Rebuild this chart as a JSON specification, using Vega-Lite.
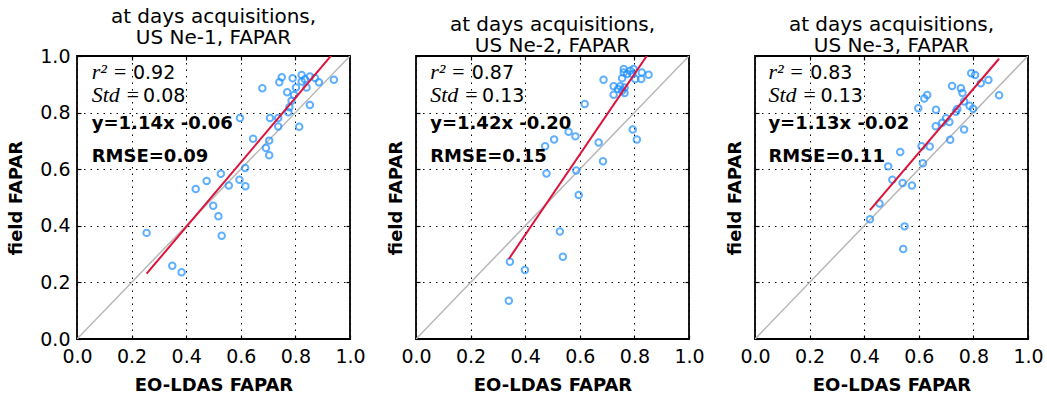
{
  "$schema": "https://vega.github.io/schema/vega-lite/v6.json",
  "padding": {"left": 6, "top": 6, "right": 0, "bottom": 0},
  "config": {
    "font": "DejaVu Sans",
    "view": {"stroke": "black", "strokeWidth": 1.8},
    "axis": {
      "domain": false, "ticks": true, "tickSize": -4, "tickColor": "black", "tickWidth": 1.2, "grid": true,
      "gridColor": "black", "gridDash": [1.5, 5], "gridWidth": 1, "gridOpacity": 1,
      "labelFont": "DejaVu Sans", "labelFontSize": 19, "labelColor": "black",
      "titleFont": "DejaVu Sans", "titleFontSize": 18, "titleFontWeight": "bold", "titleColor": "black"
    },
    "axisX": {"labelFlush": false, "labelPadding": 12, "titlePadding": 10},
    "title": {"font": "DejaVu Sans", "fontSize": 20, "fontWeight": "normal", "color": "black", "frame": "group", "anchor": "middle", "lineHeight": 21, "offset": -1},
    "concat": {"spacing": 19}
  },
  "datasets": {
    "points": [
      {"site": "US Ne-1", "eo_ldas": 0.750, "field_fapar": 0.925},
      {"site": "US Ne-1", "eo_ldas": 0.741, "field_fapar": 0.907},
      {"site": "US Ne-1", "eo_ldas": 0.790, "field_fapar": 0.921},
      {"site": "US Ne-1", "eo_ldas": 0.823, "field_fapar": 0.933},
      {"site": "US Ne-1", "eo_ldas": 0.853, "field_fapar": 0.928},
      {"site": "US Ne-1", "eo_ldas": 0.872, "field_fapar": 0.922},
      {"site": "US Ne-1", "eo_ldas": 0.886, "field_fapar": 0.907},
      {"site": "US Ne-1", "eo_ldas": 0.941, "field_fapar": 0.916},
      {"site": "US Ne-1", "eo_ldas": 0.679, "field_fapar": 0.886},
      {"site": "US Ne-1", "eo_ldas": 0.770, "field_fapar": 0.872},
      {"site": "US Ne-1", "eo_ldas": 0.802, "field_fapar": 0.889},
      {"site": "US Ne-1", "eo_ldas": 0.823, "field_fapar": 0.910},
      {"site": "US Ne-1", "eo_ldas": 0.835, "field_fapar": 0.918},
      {"site": "US Ne-1", "eo_ldas": 0.841, "field_fapar": 0.889},
      {"site": "US Ne-1", "eo_ldas": 0.795, "field_fapar": 0.862},
      {"site": "US Ne-1", "eo_ldas": 0.786, "field_fapar": 0.842},
      {"site": "US Ne-1", "eo_ldas": 0.778, "field_fapar": 0.819},
      {"site": "US Ne-1", "eo_ldas": 0.774, "field_fapar": 0.801},
      {"site": "US Ne-1", "eo_ldas": 0.853, "field_fapar": 0.827},
      {"site": "US Ne-1", "eo_ldas": 0.737, "field_fapar": 0.781},
      {"site": "US Ne-1", "eo_ldas": 0.707, "field_fapar": 0.781},
      {"site": "US Ne-1", "eo_ldas": 0.737, "field_fapar": 0.751},
      {"site": "US Ne-1", "eo_ldas": 0.814, "field_fapar": 0.750},
      {"site": "US Ne-1", "eo_ldas": 0.597, "field_fapar": 0.781},
      {"site": "US Ne-1", "eo_ldas": 0.645, "field_fapar": 0.708},
      {"site": "US Ne-1", "eo_ldas": 0.704, "field_fapar": 0.701},
      {"site": "US Ne-1", "eo_ldas": 0.692, "field_fapar": 0.675},
      {"site": "US Ne-1", "eo_ldas": 0.704, "field_fapar": 0.649},
      {"site": "US Ne-1", "eo_ldas": 0.616, "field_fapar": 0.604},
      {"site": "US Ne-1", "eo_ldas": 0.595, "field_fapar": 0.563},
      {"site": "US Ne-1", "eo_ldas": 0.617, "field_fapar": 0.540},
      {"site": "US Ne-1", "eo_ldas": 0.556, "field_fapar": 0.542},
      {"site": "US Ne-1", "eo_ldas": 0.527, "field_fapar": 0.584},
      {"site": "US Ne-1", "eo_ldas": 0.475, "field_fapar": 0.558},
      {"site": "US Ne-1", "eo_ldas": 0.435, "field_fapar": 0.530},
      {"site": "US Ne-1", "eo_ldas": 0.499, "field_fapar": 0.471},
      {"site": "US Ne-1", "eo_ldas": 0.518, "field_fapar": 0.434},
      {"site": "US Ne-1", "eo_ldas": 0.530, "field_fapar": 0.365},
      {"site": "US Ne-1", "eo_ldas": 0.255, "field_fapar": 0.375},
      {"site": "US Ne-1", "eo_ldas": 0.349, "field_fapar": 0.259},
      {"site": "US Ne-1", "eo_ldas": 0.383, "field_fapar": 0.236},

      {"site": "US Ne-2", "eo_ldas": 0.761, "field_fapar": 0.954},
      {"site": "US Ne-2", "eo_ldas": 0.761, "field_fapar": 0.942},
      {"site": "US Ne-2", "eo_ldas": 0.785, "field_fapar": 0.948},
      {"site": "US Ne-2", "eo_ldas": 0.797, "field_fapar": 0.954},
      {"site": "US Ne-2", "eo_ldas": 0.773, "field_fapar": 0.936},
      {"site": "US Ne-2", "eo_ldas": 0.793, "field_fapar": 0.936},
      {"site": "US Ne-2", "eo_ldas": 0.827, "field_fapar": 0.942},
      {"site": "US Ne-2", "eo_ldas": 0.852, "field_fapar": 0.934},
      {"site": "US Ne-2", "eo_ldas": 0.825, "field_fapar": 0.919},
      {"site": "US Ne-2", "eo_ldas": 0.803, "field_fapar": 0.919},
      {"site": "US Ne-2", "eo_ldas": 0.687, "field_fapar": 0.916},
      {"site": "US Ne-2", "eo_ldas": 0.755, "field_fapar": 0.921},
      {"site": "US Ne-2", "eo_ldas": 0.724, "field_fapar": 0.893},
      {"site": "US Ne-2", "eo_ldas": 0.748, "field_fapar": 0.893},
      {"site": "US Ne-2", "eo_ldas": 0.764, "field_fapar": 0.889},
      {"site": "US Ne-2", "eo_ldas": 0.740, "field_fapar": 0.883},
      {"site": "US Ne-2", "eo_ldas": 0.724, "field_fapar": 0.863},
      {"site": "US Ne-2", "eo_ldas": 0.764, "field_fapar": 0.869},
      {"site": "US Ne-2", "eo_ldas": 0.755, "field_fapar": 0.877},
      {"site": "US Ne-2", "eo_ldas": 0.618, "field_fapar": 0.830},
      {"site": "US Ne-2", "eo_ldas": 0.794, "field_fapar": 0.740},
      {"site": "US Ne-2", "eo_ldas": 0.809, "field_fapar": 0.705},
      {"site": "US Ne-2", "eo_ldas": 0.669, "field_fapar": 0.694},
      {"site": "US Ne-2", "eo_ldas": 0.559, "field_fapar": 0.732},
      {"site": "US Ne-2", "eo_ldas": 0.584, "field_fapar": 0.716},
      {"site": "US Ne-2", "eo_ldas": 0.506, "field_fapar": 0.705},
      {"site": "US Ne-2", "eo_ldas": 0.473, "field_fapar": 0.681},
      {"site": "US Ne-2", "eo_ldas": 0.685, "field_fapar": 0.628},
      {"site": "US Ne-2", "eo_ldas": 0.478, "field_fapar": 0.585},
      {"site": "US Ne-2", "eo_ldas": 0.587, "field_fapar": 0.595},
      {"site": "US Ne-2", "eo_ldas": 0.596, "field_fapar": 0.509},
      {"site": "US Ne-2", "eo_ldas": 0.527, "field_fapar": 0.380},
      {"site": "US Ne-2", "eo_ldas": 0.538, "field_fapar": 0.291},
      {"site": "US Ne-2", "eo_ldas": 0.344, "field_fapar": 0.273},
      {"site": "US Ne-2", "eo_ldas": 0.399, "field_fapar": 0.244},
      {"site": "US Ne-2", "eo_ldas": 0.340, "field_fapar": 0.135},

      {"site": "US Ne-3", "eo_ldas": 0.792, "field_fapar": 0.939},
      {"site": "US Ne-3", "eo_ldas": 0.806, "field_fapar": 0.933},
      {"site": "US Ne-3", "eo_ldas": 0.855, "field_fapar": 0.915},
      {"site": "US Ne-3", "eo_ldas": 0.827, "field_fapar": 0.904},
      {"site": "US Ne-3", "eo_ldas": 0.894, "field_fapar": 0.861},
      {"site": "US Ne-3", "eo_ldas": 0.722, "field_fapar": 0.894},
      {"site": "US Ne-3", "eo_ldas": 0.754, "field_fapar": 0.886},
      {"site": "US Ne-3", "eo_ldas": 0.760, "field_fapar": 0.869},
      {"site": "US Ne-3", "eo_ldas": 0.631, "field_fapar": 0.862},
      {"site": "US Ne-3", "eo_ldas": 0.620, "field_fapar": 0.850},
      {"site": "US Ne-3", "eo_ldas": 0.598, "field_fapar": 0.815},
      {"site": "US Ne-3", "eo_ldas": 0.663, "field_fapar": 0.810},
      {"site": "US Ne-3", "eo_ldas": 0.766, "field_fapar": 0.839},
      {"site": "US Ne-3", "eo_ldas": 0.786, "field_fapar": 0.824},
      {"site": "US Ne-3", "eo_ldas": 0.799, "field_fapar": 0.814},
      {"site": "US Ne-3", "eo_ldas": 0.741, "field_fapar": 0.813},
      {"site": "US Ne-3", "eo_ldas": 0.736, "field_fapar": 0.803},
      {"site": "US Ne-3", "eo_ldas": 0.712, "field_fapar": 0.767},
      {"site": "US Ne-3", "eo_ldas": 0.700, "field_fapar": 0.780},
      {"site": "US Ne-3", "eo_ldas": 0.686, "field_fapar": 0.764},
      {"site": "US Ne-3", "eo_ldas": 0.662, "field_fapar": 0.752},
      {"site": "US Ne-3", "eo_ldas": 0.766, "field_fapar": 0.740},
      {"site": "US Ne-3", "eo_ldas": 0.715, "field_fapar": 0.704},
      {"site": "US Ne-3", "eo_ldas": 0.610, "field_fapar": 0.681},
      {"site": "US Ne-3", "eo_ldas": 0.640, "field_fapar": 0.680},
      {"site": "US Ne-3", "eo_ldas": 0.532, "field_fapar": 0.661},
      {"site": "US Ne-3", "eo_ldas": 0.488, "field_fapar": 0.610},
      {"site": "US Ne-3", "eo_ldas": 0.615, "field_fapar": 0.621},
      {"site": "US Ne-3", "eo_ldas": 0.503, "field_fapar": 0.563},
      {"site": "US Ne-3", "eo_ldas": 0.541, "field_fapar": 0.551},
      {"site": "US Ne-3", "eo_ldas": 0.575, "field_fapar": 0.542},
      {"site": "US Ne-3", "eo_ldas": 0.456, "field_fapar": 0.479},
      {"site": "US Ne-3", "eo_ldas": 0.421, "field_fapar": 0.423},
      {"site": "US Ne-3", "eo_ldas": 0.548, "field_fapar": 0.398},
      {"site": "US Ne-3", "eo_ldas": 0.543, "field_fapar": 0.318}
    ],
    "fits": [
      {"site": "US Ne-1", "eo_ldas": 0.255, "field_fapar": 0.2307},
      {"site": "US Ne-1", "eo_ldas": 0.941, "field_fapar": 1.0127},
      {"site": "US Ne-2", "eo_ldas": 0.340, "field_fapar": 0.2828},
      {"site": "US Ne-2", "eo_ldas": 0.852, "field_fapar": 1.0098},
      {"site": "US Ne-3", "eo_ldas": 0.421, "field_fapar": 0.4557},
      {"site": "US Ne-3", "eo_ldas": 0.894, "field_fapar": 0.9902}
    ],
    "one_to_one": [
      {"eo_ldas": 0, "field_fapar": 0},
      {"eo_ldas": 1, "field_fapar": 1}
    ],
    "stats": [
      {"site": "US Ne-1", "r2_lhs": "r² =", "r2": "0.92", "std_lhs": "Std =", "std": "0.08", "fit": "y=1.14x -0.06", "rmse": "RMSE=0.09"},
      {"site": "US Ne-2", "r2_lhs": "r² =", "r2": "0.87", "std_lhs": "Std =", "std": "0.13", "fit": "y=1.42x -0.20", "rmse": "RMSE=0.15"},
      {"site": "US Ne-3", "r2_lhs": "r² =", "r2": "0.83", "std_lhs": "Std =", "std": "0.13", "fit": "y=1.13x -0.02", "rmse": "RMSE=0.11"}
    ]
  },
  "hconcat": [
    {
      "width": 273, "height": 283,
      "title": {"text": ["at days acquisitions,", "US Ne-1, FAPAR"]},
      "resolve": {"axis": {"x": "independent", "y": "independent"}},
      "layer": [
        {"data": {"name": "one_to_one"}, "mark": {"type": "line", "color": "#b8b8b8", "strokeWidth": 1.5, "clip": true},
         "encoding": {
           "x": {"field": "eo_ldas", "type": "quantitative", "title": "EO-LDAS FAPAR",
                 "scale": {"domain": [0, 1]}, "axis": {"values": [0, 0.2, 0.4, 0.6, 0.8, 1.0], "format": ".1f"}},
           "y": {"field": "field_fapar", "type": "quantitative", "title": "field FAPAR",
                 "scale": {"domain": [0, 1]}, "axis": {"values": [0, 0.2, 0.4, 0.6, 0.8, 1.0], "format": ".1f", "labelPadding": 11, "titlePadding": 14}}
         }},
        {"data": {"name": "points"}, "transform": [{"filter": "datum.site === 'US Ne-1'"}],
         "mark": {"type": "point", "shape": "circle", "filled": false, "color": "#1e90ff", "strokeWidth": 2, "size": 42},
         "encoding": {
           "x": {"field": "eo_ldas", "type": "quantitative", "axis": {"orient": "top", "values": [0.2, 0.4, 0.6, 0.8], "labels": false, "grid": false, "title": null}},
           "y": {"field": "field_fapar", "type": "quantitative", "axis": {"orient": "right", "values": [0.2, 0.4, 0.6, 0.8], "labels": false, "grid": false, "title": null}}
         }},
        {"data": {"name": "fits"}, "transform": [{"filter": "datum.site === 'US Ne-1'"}],
         "mark": {"type": "line", "color": "#dc143c", "strokeWidth": 2, "clip": true},
         "encoding": {"x": {"field": "eo_ldas", "type": "quantitative", "axis": null}, "y": {"field": "field_fapar", "type": "quantitative", "axis": null}}},
        {"data": {"name": "stats"}, "transform": [{"filter": "datum.site === 'US Ne-1'"}],
         "layer": [
           {"mark": {"type": "text", "font": "Liberation Serif", "fontStyle": "italic", "fontSize": 22, "align": "left", "baseline": "alphabetic", "color": "black"},
            "encoding": {"text": {"field": "r2_lhs"}, "x": {"datum": 0.054, "type": "quantitative", "axis": null}, "y": {"datum": 0.919, "type": "quantitative", "axis": null}}},
           {"mark": {"type": "text", "fontSize": 19, "align": "left", "baseline": "alphabetic", "color": "black"},
            "encoding": {"text": {"field": "r2"}, "x": {"datum": 0.205, "type": "quantitative", "axis": null}, "y": {"datum": 0.919, "type": "quantitative", "axis": null}}},
           {"mark": {"type": "text", "font": "Liberation Serif", "fontStyle": "italic", "fontSize": 22, "align": "left", "baseline": "alphabetic", "color": "black"},
            "encoding": {"text": {"field": "std_lhs"}, "x": {"datum": 0.054, "type": "quantitative", "axis": null}, "y": {"datum": 0.836, "type": "quantitative", "axis": null}}},
           {"mark": {"type": "text", "fontSize": 19, "align": "left", "baseline": "alphabetic", "color": "black"},
            "encoding": {"text": {"field": "std"}, "x": {"datum": 0.242, "type": "quantitative", "axis": null}, "y": {"datum": 0.836, "type": "quantitative", "axis": null}}},
           {"mark": {"type": "text", "fontSize": 18, "fontWeight": "bold", "align": "left", "baseline": "alphabetic", "color": "black"},
            "encoding": {"text": {"field": "fit"}, "x": {"datum": 0.054, "type": "quantitative", "axis": null}, "y": {"datum": 0.742, "type": "quantitative", "axis": null}}},
           {"mark": {"type": "text", "fontSize": 18, "fontWeight": "bold", "align": "left", "baseline": "alphabetic", "color": "black"},
            "encoding": {"text": {"field": "rmse"}, "x": {"datum": 0.054, "type": "quantitative", "axis": null}, "y": {"datum": 0.624, "type": "quantitative", "axis": null}}}
         ]}
      ]
    },
    {
      "width": 273, "height": 283,
      "title": {"text": ["at days acquisitions,", "US Ne-2, FAPAR"]},
      "resolve": {"axis": {"x": "independent", "y": "independent"}},
      "layer": [
        {"data": {"name": "one_to_one"}, "mark": {"type": "line", "color": "#b8b8b8", "strokeWidth": 1.5, "clip": true},
         "encoding": {
           "x": {"field": "eo_ldas", "type": "quantitative", "title": "EO-LDAS FAPAR",
                 "scale": {"domain": [0, 1]}, "axis": {"values": [0, 0.2, 0.4, 0.6, 0.8, 1.0], "format": ".1f"}},
           "y": {"field": "field_fapar", "type": "quantitative", "title": "field FAPAR",
                 "scale": {"domain": [0, 1]}, "axis": {"values": [0, 0.2, 0.4, 0.6, 0.8, 1.0], "labels": false, "titlePadding": 10}}
         }},
        {"data": {"name": "points"}, "transform": [{"filter": "datum.site === 'US Ne-2'"}],
         "mark": {"type": "point", "shape": "circle", "filled": false, "color": "#1e90ff", "strokeWidth": 2, "size": 42},
         "encoding": {
           "x": {"field": "eo_ldas", "type": "quantitative", "axis": {"orient": "top", "values": [0.2, 0.4, 0.6, 0.8], "labels": false, "grid": false, "title": null}},
           "y": {"field": "field_fapar", "type": "quantitative", "axis": {"orient": "right", "values": [0.2, 0.4, 0.6, 0.8], "labels": false, "grid": false, "title": null}}
         }},
        {"data": {"name": "fits"}, "transform": [{"filter": "datum.site === 'US Ne-2'"}],
         "mark": {"type": "line", "color": "#dc143c", "strokeWidth": 2, "clip": true},
         "encoding": {"x": {"field": "eo_ldas", "type": "quantitative", "axis": null}, "y": {"field": "field_fapar", "type": "quantitative", "axis": null}}},
        {"data": {"name": "stats"}, "transform": [{"filter": "datum.site === 'US Ne-2'"}],
         "layer": [
           {"mark": {"type": "text", "font": "Liberation Serif", "fontStyle": "italic", "fontSize": 22, "align": "left", "baseline": "alphabetic", "color": "black"},
            "encoding": {"text": {"field": "r2_lhs"}, "x": {"datum": 0.052, "type": "quantitative", "axis": null}, "y": {"datum": 0.919, "type": "quantitative", "axis": null}}},
           {"mark": {"type": "text", "fontSize": 19, "align": "left", "baseline": "alphabetic", "color": "black"},
            "encoding": {"text": {"field": "r2"}, "x": {"datum": 0.204, "type": "quantitative", "axis": null}, "y": {"datum": 0.919, "type": "quantitative", "axis": null}}},
           {"mark": {"type": "text", "font": "Liberation Serif", "fontStyle": "italic", "fontSize": 22, "align": "left", "baseline": "alphabetic", "color": "black"},
            "encoding": {"text": {"field": "std_lhs"}, "x": {"datum": 0.052, "type": "quantitative", "axis": null}, "y": {"datum": 0.836, "type": "quantitative", "axis": null}}},
           {"mark": {"type": "text", "fontSize": 19, "align": "left", "baseline": "alphabetic", "color": "black"},
            "encoding": {"text": {"field": "std"}, "x": {"datum": 0.242, "type": "quantitative", "axis": null}, "y": {"datum": 0.836, "type": "quantitative", "axis": null}}},
           {"mark": {"type": "text", "fontSize": 18, "fontWeight": "bold", "align": "left", "baseline": "alphabetic", "color": "black"},
            "encoding": {"text": {"field": "fit"}, "x": {"datum": 0.052, "type": "quantitative", "axis": null}, "y": {"datum": 0.742, "type": "quantitative", "axis": null}}},
           {"mark": {"type": "text", "fontSize": 18, "fontWeight": "bold", "align": "left", "baseline": "alphabetic", "color": "black"},
            "encoding": {"text": {"field": "rmse"}, "x": {"datum": 0.052, "type": "quantitative", "axis": null}, "y": {"datum": 0.624, "type": "quantitative", "axis": null}}}
         ]}
      ]
    },
    {
      "width": 273, "height": 283,
      "title": {"text": ["at days acquisitions,", "US Ne-3, FAPAR"]},
      "resolve": {"axis": {"x": "independent", "y": "independent"}},
      "layer": [
        {"data": {"name": "one_to_one"}, "mark": {"type": "line", "color": "#b8b8b8", "strokeWidth": 1.5, "clip": true},
         "encoding": {
           "x": {"field": "eo_ldas", "type": "quantitative", "title": "EO-LDAS FAPAR",
                 "scale": {"domain": [0, 1]}, "axis": {"values": [0, 0.2, 0.4, 0.6, 0.8, 1.0], "format": ".1f"}},
           "y": {"field": "field_fapar", "type": "quantitative", "title": "field FAPAR",
                 "scale": {"domain": [0, 1]}, "axis": {"values": [0, 0.2, 0.4, 0.6, 0.8, 1.0], "labels": false, "titlePadding": 10}}
         }},
        {"data": {"name": "points"}, "transform": [{"filter": "datum.site === 'US Ne-3'"}],
         "mark": {"type": "point", "shape": "circle", "filled": false, "color": "#1e90ff", "strokeWidth": 2, "size": 42},
         "encoding": {
           "x": {"field": "eo_ldas", "type": "quantitative", "axis": {"orient": "top", "values": [0.2, 0.4, 0.6, 0.8], "labels": false, "grid": false, "title": null}},
           "y": {"field": "field_fapar", "type": "quantitative", "axis": {"orient": "right", "values": [0.2, 0.4, 0.6, 0.8], "labels": false, "grid": false, "title": null}}
         }},
        {"data": {"name": "fits"}, "transform": [{"filter": "datum.site === 'US Ne-3'"}],
         "mark": {"type": "line", "color": "#dc143c", "strokeWidth": 2, "clip": true},
         "encoding": {"x": {"field": "eo_ldas", "type": "quantitative", "axis": null}, "y": {"field": "field_fapar", "type": "quantitative", "axis": null}}},
        {"data": {"name": "stats"}, "transform": [{"filter": "datum.site === 'US Ne-3'"}],
         "layer": [
           {"mark": {"type": "text", "font": "Liberation Serif", "fontStyle": "italic", "fontSize": 22, "align": "left", "baseline": "alphabetic", "color": "black"},
            "encoding": {"text": {"field": "r2_lhs"}, "x": {"datum": 0.049, "type": "quantitative", "axis": null}, "y": {"datum": 0.919, "type": "quantitative", "axis": null}}},
           {"mark": {"type": "text", "fontSize": 19, "align": "left", "baseline": "alphabetic", "color": "black"},
            "encoding": {"text": {"field": "r2"}, "x": {"datum": 0.202, "type": "quantitative", "axis": null}, "y": {"datum": 0.919, "type": "quantitative", "axis": null}}},
           {"mark": {"type": "text", "font": "Liberation Serif", "fontStyle": "italic", "fontSize": 22, "align": "left", "baseline": "alphabetic", "color": "black"},
            "encoding": {"text": {"field": "std_lhs"}, "x": {"datum": 0.049, "type": "quantitative", "axis": null}, "y": {"datum": 0.836, "type": "quantitative", "axis": null}}},
           {"mark": {"type": "text", "fontSize": 19, "align": "left", "baseline": "alphabetic", "color": "black"},
            "encoding": {"text": {"field": "std"}, "x": {"datum": 0.240, "type": "quantitative", "axis": null}, "y": {"datum": 0.836, "type": "quantitative", "axis": null}}},
           {"mark": {"type": "text", "fontSize": 18, "fontWeight": "bold", "align": "left", "baseline": "alphabetic", "color": "black"},
            "encoding": {"text": {"field": "fit"}, "x": {"datum": 0.049, "type": "quantitative", "axis": null}, "y": {"datum": 0.742, "type": "quantitative", "axis": null}}},
           {"mark": {"type": "text", "fontSize": 18, "fontWeight": "bold", "align": "left", "baseline": "alphabetic", "color": "black"},
            "encoding": {"text": {"field": "rmse"}, "x": {"datum": 0.049, "type": "quantitative", "axis": null}, "y": {"datum": 0.624, "type": "quantitative", "axis": null}}}
         ]}
      ]
    }
  ]
}
